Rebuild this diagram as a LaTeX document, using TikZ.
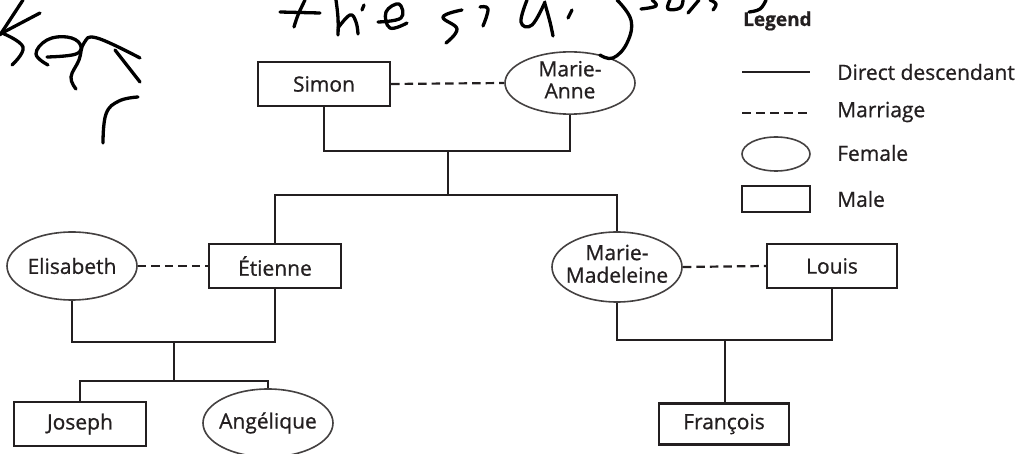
\documentclass[tikz,border=0pt]{standalone}
\usepackage{fontspec}
\setmainfont{Open Sans}[RawFeature={embolden=0.8}]
\usetikzlibrary{shapes.geometric}
\definecolor{ink}{HTML}{231F20}
\newcommand\ctext[1]{\makebox[0pt]{\begin{tabular}{@{}c@{}}#1\end{tabular}}}
\newcommand\otext[1]{\makebox[0pt]{#1}}
\begin{document}
\begin{tikzpicture}[x=1pt,y=-1pt,
  every node/.style={text=ink, font=\fontsize{21}{22}\selectfont},
  male/.style={draw=ink, line width=2.2pt, rectangle, inner sep=0pt, minimum width=132pt, minimum height=44pt},
  female/.style={draw=ink!85, line width=1.6pt, ellipse, inner sep=0pt, minimum width=130pt, minimum height=68pt},
  descent/.style={draw=ink, line width=2.2pt},
  branch/.style={draw=ink, line width=1.4pt},
  marriage/.style={draw=ink, line width=2.2pt, dash pattern=on 8.5pt off 5pt},
  scrawl/.style={draw=black, line width=3.3pt, line cap=round, line join=round},
  caption/.style={anchor=west, inner sep=0pt}]
\useasboundingbox (0,0) rectangle (1018,454);

% ---- family members ----
\node[male]   (simon)    at (324,84)  {Simon};
\node[female, minimum height=56pt] (manne) at (570,83) {\ctext{Marie-\\Anne}};
\node[male]   (etienne)  at (275,266) {Étienne};
\node[female] (elis)     at (72,266)  {\otext{Elisabeth}};
\node[female, minimum height=70pt] (mmad) at (617,267) {\ctext{Marie-\\Madeleine}};
\node[male, minimum width=130pt] (louis) at (832,266) {Louis};
\node[male]   (joseph)   at (80,424)  {Joseph};
\node[female] (angel)    at (268,423) {\otext{Angélique}};
\node[male, minimum width=130pt, minimum height=41pt] (francois) at (724,424) {François};

% ---- junction points ----
\coordinate (j1) at (448,151);
\coordinate (j2) at (448,195);
\coordinate (j3) at (174,342);
\coordinate (j4) at (174,381);
\coordinate (j5) at (725,340);

% ---- marriages ----
\draw[marriage] (simon.east) -- (manne.west);
\draw[marriage] (elis.east) -- (etienne.west);
\draw[marriage] (mmad.east) -- (louis.west);

% ---- descent lines ----
\draw[descent] (simon.south) |- (j1) -| (manne.south);
\draw[descent] (j1) -- (j2);
\draw[descent] (etienne.north) |- (j2) -| (mmad.north);
\draw[descent] (elis.south) |- (j3) -| (etienne.south);
\draw[descent] (j3) -- (j4);
\draw[branch] (joseph.north) |- (j4) -| (angel.north);
\draw[descent] (mmad.south) |- (j5) -| (louis.south);
\draw[descent] (j5) -- (francois.north -| j5);

% ---- legend ----
\node[caption, font=\fontsize{19}{20}\selectfont\bfseries] (legend) at (743,21) {Legend};
\coordinate (ls1) at (742,72);  \coordinate (ls2) at (810,72);
\coordinate (lm1) at (742,113); \coordinate (lm2) at (810,113);
\draw[descent] (ls1) -- (ls2);
\draw[marriage, dash pattern=on 9pt off 5pt] (lm1) -- (lm2);
\node[female, minimum width=68pt, minimum height=34pt] (lfem) at (776,154) {};
\node[male, minimum width=68pt, minimum height=26pt] (lmale) at (776,199) {};
\node[caption] (tdesc) at (837,72)  {Direct descendant};
\node[caption] (tmarr) at (837,112) {Marriage};
\node[caption] (tfem)  at (837,153) {Female};
\node[caption] (tmale) at (837,199) {Male};

% ---- handwritten notes ----
% left margin
\draw[scrawl] (23,0) -- (0,35);
\draw[scrawl] (40,13) -- (2,33);
\draw[scrawl] plot[smooth, tension=0.7] coordinates {(2,33) (23,47) (12,65)};
\draw[scrawl] plot[smooth, tension=0.7] coordinates {(48,65) (36,54) (47,40) (67,37) (80,44) (76,54) (47,57)};
\draw[scrawl] plot[smooth, tension=0.7] coordinates {(76,89) (71,77) (79,60) (84,43) (97,38) (140,58)};
\draw[scrawl] (115,50) -- (140,82);
\draw[scrawl] plot[smooth, tension=0.7] coordinates {(103,143) (106,114) (119,101) (138,97)};
% top line of writing
\draw[scrawl] (280,12) -- (320,13);
\draw[scrawl] plot[smooth, tension=0.7] coordinates {(305,0) (298,15) (294,27)};
\draw[scrawl] plot[smooth, tension=0.7] coordinates {(336,0) (338,18) (338,35)};
\draw[scrawl] plot[smooth, tension=0.7] coordinates {(338,28) (350,15) (356,22) (358,34)};
\draw[scrawl] (364,5) -- (362,10);
\draw[scrawl] plot[smooth, tension=0.7] coordinates {(378,22) (401,18) (399,4) (386,12) (390,28) (407,23)};
\draw[scrawl] plot[smooth, tension=0.7] coordinates {(462,10) (443,17) (457,29) (446,43)};
\draw[scrawl] plot[smooth, tension=0.7] coordinates {(480,7) (488,9) (483,26)};
\draw[scrawl] plot[smooth, tension=0.7] coordinates {(527,0) (521,22) (532,25) (545,2)};
\draw[scrawl] plot[smooth, tension=0.7] coordinates {(545,4) (550,22) (553,36)};
\draw[scrawl] (572,10) -- (568,18);
\draw[scrawl] plot[smooth, tension=0.7] coordinates {(617,0) (631,20) (627,43) (613,58) (600,55)};
\draw[scrawl] plot[smooth, tension=0.7] coordinates {(641,9) (656,6) (652,0)};
\draw[scrawl] plot[smooth, tension=0.7] coordinates {(670,0) (668,9) (680,8) (683,0)};
\draw[scrawl] (699,0) -- (688,13);
\draw[scrawl] plot[smooth, tension=0.7] coordinates {(710,0) (716,4) (713,10)};
\draw[scrawl] plot[smooth, tension=0.7] coordinates {(766,0) (760,9) (749,12)};
\end{tikzpicture}
\end{document}
